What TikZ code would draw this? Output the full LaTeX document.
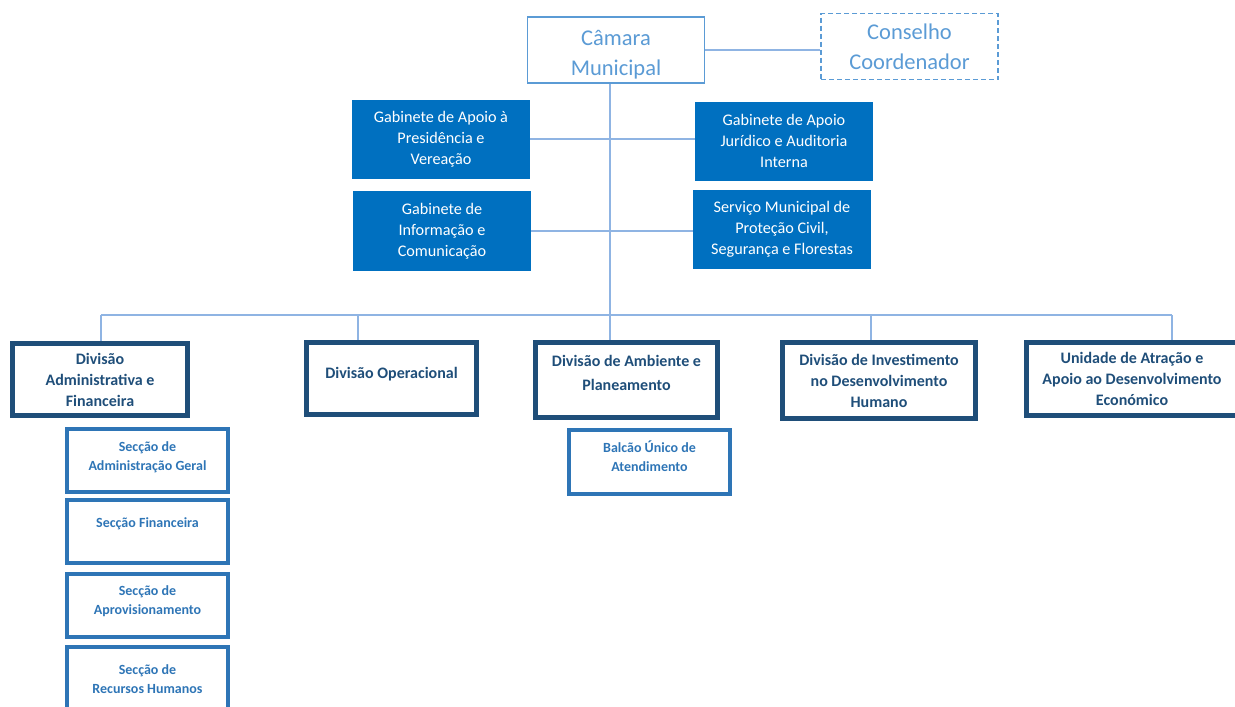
\documentclass[tikz,border=0pt]{standalone}
\usepackage{fontspec}
\setmainfont{Carlito}
\usetikzlibrary{positioning, backgrounds}
\definecolor{lightblue}{HTML}{5B9BD5}
\definecolor{linkblue}{HTML}{8FB4E3}
\definecolor{cabinetblue}{HTML}{0070C0}
\definecolor{divisionblue}{HTML}{1F4E79}
\definecolor{sectionblue}{HTML}{2E75B6}

\begin{document}
\begin{tikzpicture}[x=1pt, y=-1pt]
		\tikzstyle{council}=[draw=lightblue, line width=1.2pt, text=lightblue, font=\fontsize{22.5}{30}\selectfont, align=center, inner sep=0pt, minimum width=177pt, minimum height=66pt]
		\tikzstyle{cabinet}=[fill=cabinetblue, text=white, font=\fontsize{16.2}{21}\selectfont, align=center, inner sep=0pt, minimum width=178pt, minimum height=79pt]
		\tikzstyle{division}=[draw=divisionblue, line width=5pt, text=divisionblue, font=\bfseries\fontsize{16}{21}\selectfont, align=center, inner sep=0pt]
		\tikzstyle{section}=[draw=sectionblue, line width=4pt, inner sep=0pt, minimum width=161pt, minimum height=63pt]
		\tikzstyle{sectiontext}=[text=sectionblue, font=\bfseries\fontsize{14}{19}\selectfont, align=center, inner sep=0pt]
		\tikzstyle{link}=[draw=linkblue, line width=1.3pt]
		
		\path[use as bounding box, clip] (0,0) rectangle (1235,707);
		
		% top of the chart
		\node (camara) at (616,50) [council, fill=white] {\rule{0pt}{24pt}Câmara\\Municipal};
		\node (conselho) at (909.5,46.5) [council, dash pattern=on 5pt off 3pt] {Conselho\\Coordenador};
		
		\node (presidencia) at (441,139) [cabinet] {Gabinete de Apoio à\\Presidência e\\Vereação};
		\node (juridico) at (784,141) [cabinet] {Gabinete de Apoio\\Jurídico e Auditoria\\Interna};
		\node (informacao) at (442,231) [cabinet, minimum height=80pt] {Gabinete de\\Informação e\\Comunicação};
		\node (protecao) at (782,229.5) [cabinet] {Serviço Municipal de\\Proteção Civil,\\Segurança e Florestas};
		
		% divisions
		\node (administrativa) at (100,379.5) [division, minimum width=175pt, minimum height=72pt] {Divisão\\Administrativa e\\Financeira};
		\node (operacional) at (391.5,378.5) [division, minimum width=170pt, minimum height=72pt] {Divisão Operacional\rule[-12pt]{0pt}{0pt}};
		\node (ambiente) at (626.5,380) [division, minimum width=182pt, minimum height=75pt, font=\bfseries\fontsize{16}{24}\selectfont] {Divisão de Ambiente e\\Planeamento\rule[-15pt]{0pt}{0pt}};
		\node (investimento) at (879,380.5) [division, minimum width=193pt, minimum height=76pt] {Divisão de Investimento\\no Desenvolvimento\\Humano};
		\node (atracao) at (1132,379) [division, minimum width=211pt, minimum height=73pt] {Unidade de Atração e\\Apoio ao Desenvolvimento\\Económico};
		
		% sections
		\node (geral) at (147.5,460.5) [section] {};
		\node (financeira) at (147.5,531.5) [section] {};
		\node (aprovisionamento) at (147.5,605) [section] {};
		\node (recursos) at (147.5,678.5) [section] {};
		\node (balcao) at (649.5,462) [section, minimum height=64pt] {};
		
		\node (geral-text) [sectiontext, below=14pt of geral.north] {Secção de\\Administração Geral};
		\node (financeira-text) [sectiontext, below=19pt of financeira.north] {Secção Financeira};
		\node (aprovisionamento-text) [sectiontext, below=14pt of aprovisionamento.north] {Secção de\\Aprovisionamento};
		\node (recursos-text) [sectiontext, below=19pt of recursos.north] {Secção de\\Recursos Humanos};
		\node (balcao-text) [sectiontext, below=13pt of balcao.north] {Balcão Único de\\Atendimento};
		
		% connectors
		\coordinate (trunk) at (610,315);
		\coordinate (busleft) at (101,315);
		\coordinate (busright) at (1172,315);
		\coordinate (dropoperacional) at (358,315);
		\coordinate (dropinvestimento) at (871,315);
		
		\begin{scope}[on background layer]
		\draw [link] (camara.east) -- (conselho.west |- camara.east);
		\draw [link] (camara.south -| trunk) -- (trunk);
		\draw [link] (presidencia.east) -- (juridico.west |- presidencia.east);
		\draw [link] (informacao.east) -- (protecao.west |- informacao.east);
		\draw [link] (busleft) -- (busright);
		\draw [link] (busleft) -- (busleft |- administrativa.north);
		\draw [link] (dropoperacional) -- (dropoperacional |- operacional.north);
		\draw [link] (trunk) -- (trunk |- ambiente.north);
		\draw [link] (dropinvestimento) -- (dropinvestimento |- investimento.north);
		\draw [link] (busright) -- (busright |- atracao.north);
		\end{scope}
\end{tikzpicture}
\end{document}
